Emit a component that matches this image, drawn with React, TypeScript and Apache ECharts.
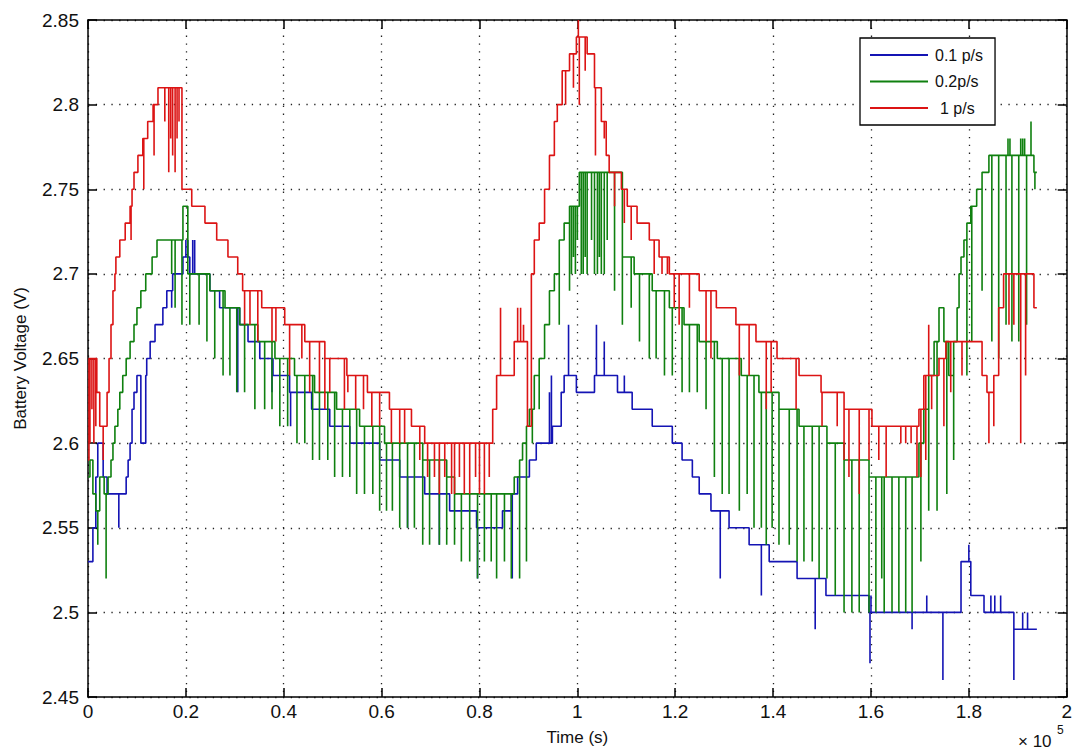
import React, { useEffect, useRef } from "react";
import * as echarts from "echarts";

// Time is in units of 1e5 s; voltage in V.
// Each "steps" entry: [time, level held from that time on]; each "spikes" entry: [time, brief excursion value].
const seriesNames = ["0.1 p/s", "0.2p/s", "1 p/s"];
const seriesColors = ["#1414b4", "#0f800f", "#dc1414"];

const blueSteps: [number, number][] = [
  [0, 2.53], [0.01, 2.55], [0.016, 2.58], [0.02, 2.6], [0.031, 2.58], [0.039, 2.57], [0.078, 2.58], [0.082, 2.59],
  [0.086, 2.6], [0.09, 2.62], [0.094, 2.63], [0.1, 2.64], [0.108, 2.6], [0.118, 2.64], [0.12, 2.65], [0.127, 2.66],
  [0.137, 2.67], [0.153, 2.68], [0.161, 2.69], [0.173, 2.7], [0.194, 2.71], [0.208, 2.7], [0.249, 2.69], [0.269, 2.68],
  [0.31, 2.67], [0.327, 2.66], [0.351, 2.65], [0.378, 2.64], [0.412, 2.63], [0.457, 2.62], [0.494, 2.61], [0.535, 2.6],
  [0.596, 2.59], [0.637, 2.58], [0.688, 2.57], [0.739, 2.56], [0.794, 2.55], [0.847, 2.56], [0.865, 2.57], [0.878, 2.58],
  [0.902, 2.59], [0.916, 2.6], [0.949, 2.61], [0.967, 2.63], [0.973, 2.64], [0.998, 2.63], [1.035, 2.64], [1.082, 2.63],
  [1.112, 2.62], [1.153, 2.61], [1.194, 2.6], [1.214, 2.59], [1.235, 2.58], [1.249, 2.57], [1.273, 2.56], [1.31, 2.55],
  [1.351, 2.54], [1.392, 2.53], [1.449, 2.52], [1.508, 2.51], [1.596, 2.5], [1.784, 2.53], [1.804, 2.51], [1.831, 2.5],
  [1.892, 2.49], [1.939, 2.49],
];
const blueSpikes: [number, number][] = [
  [0.063, 2.55], [0.171, 2.68], [0.2, 2.72], [0.204, 2.72], [0.214, 2.72], [0.218, 2.72], [0.306, 2.63], [0.376, 2.63],
  [0.414, 2.61], [0.653, 2.55], [0.718, 2.54], [0.796, 2.52], [0.867, 2.52], [0.943, 2.63], [0.947, 2.64], [0.982, 2.67],
  [1.039, 2.67], [1.055, 2.66], [1.096, 2.64], [1.292, 2.52], [1.376, 2.51], [1.486, 2.49], [1.598, 2.47], [1.6, 2.51],
  [1.684, 2.49], [1.714, 2.51], [1.747, 2.46], [1.8, 2.54], [1.845, 2.51], [1.853, 2.51], [1.865, 2.51], [1.892, 2.46],
  [1.91, 2.5], [1.92, 2.5],
];

const greenSteps: [number, number][] = [
  [0, 2.58], [0.004, 2.59], [0.01, 2.57], [0.016, 2.56], [0.024, 2.58], [0.033, 2.57], [0.041, 2.58], [0.047, 2.59],
  [0.051, 2.6], [0.055, 2.61], [0.061, 2.62], [0.065, 2.63], [0.071, 2.64], [0.078, 2.65], [0.086, 2.66], [0.094, 2.67],
  [0.1, 2.68], [0.108, 2.69], [0.118, 2.7], [0.131, 2.71], [0.141, 2.72], [0.194, 2.74], [0.204, 2.7], [0.249, 2.69],
  [0.28, 2.68], [0.31, 2.67], [0.347, 2.66], [0.382, 2.65], [0.422, 2.64], [0.463, 2.63], [0.508, 2.62], [0.555, 2.61],
  [0.606, 2.6], [0.684, 2.59], [0.733, 2.58], [0.749, 2.57], [0.871, 2.58], [0.882, 2.59], [0.888, 2.6], [0.896, 2.61],
  [0.902, 2.62], [0.912, 2.64], [0.922, 2.65], [0.933, 2.67], [0.943, 2.69], [0.953, 2.7], [0.963, 2.72], [0.973, 2.73],
  [0.984, 2.74], [1.004, 2.76], [1.092, 2.71], [1.116, 2.7], [1.153, 2.69], [1.188, 2.68], [1.218, 2.67], [1.249, 2.66],
  [1.286, 2.65], [1.335, 2.64], [1.371, 2.63], [1.412, 2.62], [1.453, 2.61], [1.51, 2.6], [1.545, 2.59], [1.596, 2.58],
  [1.698, 2.6], [1.708, 2.62], [1.718, 2.64], [1.729, 2.66], [1.739, 2.68], [1.749, 2.66], [1.759, 2.64], [1.769, 2.66],
  [1.776, 2.68], [1.78, 2.7], [1.784, 2.71], [1.79, 2.72], [1.796, 2.73], [1.804, 2.74], [1.816, 2.75], [1.827, 2.76],
  [1.841, 2.77], [1.933, 2.76], [1.939, 2.76],
];
const greenSpikes: [number, number][] = [
  [0.02, 2.54], [0.037, 2.52], [0.171, 2.7], [0.178, 2.68], [0.192, 2.67], [0.208, 2.67], [0.227, 2.67], [0.243, 2.66],
  [0.259, 2.65], [0.276, 2.64], [0.29, 2.64], [0.304, 2.63], [0.32, 2.63], [0.341, 2.62], [0.361, 2.62], [0.376, 2.62],
  [0.392, 2.61], [0.408, 2.61], [0.427, 2.6], [0.443, 2.6], [0.459, 2.59], [0.473, 2.59], [0.49, 2.59], [0.504, 2.58],
  [0.52, 2.58], [0.535, 2.58], [0.549, 2.57], [0.565, 2.57], [0.582, 2.57], [0.596, 2.56], [0.61, 2.56], [0.622, 2.56],
  [0.637, 2.55], [0.653, 2.55], [0.667, 2.55], [0.684, 2.54], [0.698, 2.54], [0.718, 2.54], [0.733, 2.54], [0.749, 2.54],
  [0.763, 2.53], [0.78, 2.53], [0.796, 2.52], [0.81, 2.53], [0.824, 2.53], [0.835, 2.52], [0.851, 2.53], [0.865, 2.52],
  [0.882, 2.52], [0.896, 2.53], [0.908, 2.6], [0.922, 2.62], [0.963, 2.67], [0.984, 2.69], [0.988, 2.7], [0.992, 2.71],
  [0.996, 2.7], [1.0, 2.72], [1.008, 2.7], [1.012, 2.7], [1.016, 2.71], [1.02, 2.7], [1.029, 2.72], [1.035, 2.7],
  [1.041, 2.7], [1.045, 2.71], [1.049, 2.7], [1.055, 2.7], [1.061, 2.72], [1.076, 2.69], [1.092, 2.67], [1.11, 2.68],
  [1.127, 2.66], [1.147, 2.65], [1.161, 2.65], [1.178, 2.64], [1.194, 2.64], [1.214, 2.63], [1.229, 2.63], [1.245, 2.63],
  [1.263, 2.62], [1.28, 2.58], [1.296, 2.57], [1.31, 2.57], [1.331, 2.56], [1.347, 2.57], [1.361, 2.55], [1.376, 2.55],
  [1.386, 2.54], [1.398, 2.55], [1.412, 2.54], [1.433, 2.54], [1.449, 2.53], [1.463, 2.53], [1.48, 2.53], [1.494, 2.52],
  [1.51, 2.52], [1.527, 2.51], [1.545, 2.5], [1.561, 2.5], [1.576, 2.5], [1.596, 2.5], [1.61, 2.5], [1.622, 2.52],
  [1.627, 2.5], [1.643, 2.5], [1.657, 2.5], [1.671, 2.5], [1.684, 2.5], [1.702, 2.53], [1.718, 2.56], [1.735, 2.56],
  [1.755, 2.57], [1.769, 2.59], [1.796, 2.64], [1.806, 2.66], [1.827, 2.69], [1.847, 2.66], [1.861, 2.65], [1.876, 2.67],
  [1.88, 2.78], [1.884, 2.78], [1.888, 2.66], [1.902, 2.66], [1.906, 2.78], [1.91, 2.78], [1.914, 2.78], [1.918, 2.67],
  [1.927, 2.79], [1.935, 2.75],
];

const redSteps: [number, number][] = [
  [0, 2.59], [0.002, 2.65], [0.018, 2.63], [0.024, 2.61], [0.039, 2.63], [0.043, 2.65], [0.047, 2.67], [0.051, 2.69],
  [0.055, 2.7], [0.057, 2.71], [0.065, 2.72], [0.076, 2.73], [0.086, 2.74], [0.09, 2.75], [0.094, 2.76], [0.102, 2.77],
  [0.112, 2.78], [0.122, 2.79], [0.133, 2.8], [0.143, 2.81], [0.192, 2.75], [0.212, 2.74], [0.239, 2.73], [0.263, 2.72],
  [0.286, 2.71], [0.306, 2.7], [0.316, 2.69], [0.355, 2.68], [0.402, 2.67], [0.443, 2.66], [0.484, 2.65], [0.529, 2.64],
  [0.571, 2.63], [0.616, 2.62], [0.661, 2.61], [0.688, 2.6], [0.827, 2.62], [0.835, 2.64], [0.871, 2.66], [0.898, 2.61],
  [0.906, 2.7], [0.912, 2.72], [0.922, 2.73], [0.933, 2.75], [0.943, 2.77], [0.953, 2.79], [0.959, 2.8], [0.969, 2.82],
  [0.984, 2.83], [0.998, 2.84], [1.02, 2.83], [1.035, 2.81], [1.049, 2.79], [1.059, 2.77], [1.065, 2.76], [1.09, 2.75],
  [1.102, 2.74], [1.122, 2.73], [1.147, 2.72], [1.167, 2.71], [1.188, 2.7], [1.249, 2.69], [1.284, 2.68], [1.324, 2.67],
  [1.365, 2.66], [1.408, 2.65], [1.453, 2.64], [1.498, 2.63], [1.545, 2.62], [1.602, 2.61], [1.698, 2.62], [1.708, 2.64],
  [1.739, 2.65], [1.753, 2.66], [1.827, 2.64], [1.837, 2.63], [1.851, 2.64], [1.861, 2.68], [1.871, 2.7], [1.933, 2.68],
  [1.939, 2.68],
];
const redSpikes: [number, number][] = [
  [0.004, 2.6], [0.008, 2.62], [0.012, 2.6], [0.016, 2.61], [0.031, 2.59], [0.088, 2.72], [0.114, 2.75], [0.135, 2.77],
  [0.157, 2.79], [0.165, 2.76], [0.169, 2.78], [0.173, 2.77], [0.178, 2.76], [0.182, 2.78], [0.186, 2.79], [0.32, 2.67],
  [0.331, 2.67], [0.347, 2.66], [0.376, 2.66], [0.384, 2.66], [0.412, 2.64], [0.437, 2.65], [0.453, 2.63], [0.473, 2.63],
  [0.484, 2.62], [0.494, 2.63], [0.524, 2.62], [0.531, 2.63], [0.547, 2.62], [0.563, 2.62], [0.58, 2.61], [0.596, 2.61],
  [0.62, 2.6], [0.637, 2.6], [0.647, 2.6], [0.678, 2.59], [0.694, 2.58], [0.708, 2.58], [0.718, 2.57], [0.729, 2.58],
  [0.743, 2.57], [0.749, 2.57], [0.759, 2.58], [0.769, 2.57], [0.78, 2.57], [0.792, 2.58], [0.8, 2.57], [0.81, 2.57],
  [0.82, 2.58], [0.843, 2.68], [0.878, 2.68], [0.884, 2.68], [0.89, 2.67], [0.976, 2.8], [0.992, 2.81], [1.002, 2.85],
  [1.004, 2.8], [1.016, 2.82], [1.037, 2.77], [1.055, 2.78], [1.076, 2.74], [1.096, 2.73], [1.11, 2.72], [1.157, 2.7],
  [1.173, 2.7], [1.184, 2.7], [1.198, 2.68], [1.208, 2.67], [1.229, 2.68], [1.263, 2.66], [1.273, 2.65], [1.331, 2.64],
  [1.351, 2.64], [1.386, 2.62], [1.396, 2.63], [1.447, 2.62], [1.5, 2.61], [1.531, 2.61], [1.545, 2.59], [1.555, 2.58],
  [1.576, 2.57], [1.596, 2.59], [1.616, 2.59], [1.631, 2.58], [1.661, 2.6], [1.671, 2.6], [1.682, 2.6], [1.694, 2.58],
  [1.702, 2.58], [1.712, 2.59], [1.718, 2.67], [1.724, 2.62], [1.749, 2.61], [1.763, 2.63], [1.786, 2.64], [1.841, 2.6],
  [1.851, 2.61], [1.882, 2.67], [1.892, 2.67], [1.906, 2.6], [1.916, 2.64],
];

const FONT = '"Liberation Sans", Arial, Helvetica, sans-serif';

function buildTrace(steps: [number, number][], spikes: [number, number][]) {
  type Ev = { t: number; v: number; k: number };
  const evs: Ev[] = [
    ...steps.slice(1).map(([t, v]) => ({ t, v, k: 0 })),
    ...spikes.map(([t, v]) => ({ t, v, k: 1 })),
  ].sort((a, b) => a.t - b.t || a.k - b.k);
  let cur = steps[0][1];
  const out: [number, number][] = [[steps[0][0], cur]];
  for (const e of evs) {
    if (e.k === 0) {
      out.push([e.t, cur]);
      cur = e.v;
      out.push([e.t, cur]);
    } else {
      out.push([e.t, cur], [e.t, e.v], [e.t, cur]);
    }
  }
  return out;
}

export default function App() {
  const ref = useRef<HTMLDivElement>(null);
  useEffect(() => {
    const chart = echarts.init(ref.current!, null, { renderer: "svg" });
    const traces = [
      buildTrace(blueSteps, blueSpikes),
      buildTrace(greenSteps, greenSpikes),
      buildTrace(redSteps, redSpikes),
    ];
    const gridLine = { show: true, lineStyle: { color: "#222", width: 1.3, type: [1.3, 6.5] as number[] } };
    const axisLine = { show: true, onZero: false, lineStyle: { color: "#000", width: 1.5 } };
    const tick = { show: true, inside: true, length: 9, lineStyle: { color: "#000", width: 1.5 } };
    chart.setOption({
      animation: false,
      backgroundColor: "#fff",
      grid: { left: 88, right: 7, top: 20, bottom: 56, containLabel: false },
      legend: {
        orient: "vertical",
        left: 860,
        top: 38,
        padding: [7, 12, 7, 10],
        icon: "rect",
        itemWidth: 58,
        itemHeight: 2,
        itemGap: 6.5,
        backgroundColor: "#fff",
        borderColor: "#000",
        borderWidth: 1.3,
        data: seriesNames,
        formatter: (name: string) => (name === "1 p/s" ? `{o|${name}}` : `{n|${name}}`),
        textStyle: {
          fontFamily: FONT,
          fontSize: 16,
          lineHeight: 20,
          color: "#111",
          rich: {
            n: { fontFamily: FONT, fontSize: 16, lineHeight: 20, color: "#111", padding: [0, 0, 0, 2] },
            o: { fontFamily: FONT, fontSize: 16, lineHeight: 20, color: "#111", padding: [0, 0, 0, 7] },
          },
        },
      },
      xAxis: [
        {
          type: "value",
          min: 0,
          max: 2,
          interval: 0.2,
          name: "Time (s)",
          nameLocation: "middle",
          nameGap: 32,
          nameTextStyle: { fontFamily: FONT, fontSize: 17, color: "#111" },
          axisLine,
          axisTick: tick,
          axisLabel: {
            margin: 5,
            fontFamily: FONT,
            fontSize: 19,
            color: "#111",
            formatter: (v: number) => String(Number(v.toFixed(1))),
          },
          splitLine: gridLine,
        },
        {
          type: "value",
          position: "top",
          min: 0,
          max: 2,
          interval: 0.2,
          axisLine,
          axisTick: tick,
          axisLabel: { show: false },
          splitLine: { show: false },
        },
      ],
      yAxis: [
        {
          type: "value",
          min: 2.45,
          max: 2.85,
          interval: 0.05,
          name: "Battery Voltage (V)",
          nameLocation: "middle",
          nameGap: 59,
          nameTextStyle: { fontFamily: FONT, fontSize: 17, color: "#111" },
          axisLine,
          axisTick: tick,
          axisLabel: {
            margin: 9,
            fontFamily: FONT,
            fontSize: 19,
            color: "#111",
            formatter: (v: number) => String(Number(v.toFixed(2))),
          },
          splitLine: gridLine,
        },
        {
          type: "value",
          position: "right",
          min: 2.45,
          max: 2.85,
          interval: 0.05,
          axisLine,
          axisTick: tick,
          axisLabel: { show: false },
          splitLine: { show: false },
        },
      ],
      series: traces.map((data, i) => ({
        name: seriesNames[i],
        type: "line",
        data,
        symbol: "none",
        showSymbol: false,
        xAxisIndex: 0,
        yAxisIndex: 0,
        color: seriesColors[i],
        lineStyle: { color: seriesColors[i], width: 1.6 },
        silent: true,
      })),
      graphic: [
        { type: "text", left: 1018, top: 733, style: { text: "× 10", fontFamily: FONT, fontSize: 17, fill: "#111" } },
        { type: "text", left: 1057, top: 724, style: { text: "5", fontFamily: FONT, fontSize: 12, fill: "#111" } },
      ],
    });
    return () => chart.dispose();
  }, []);
  return (
    <div
      ref={ref}
      style={{ position: "fixed", left: 0, top: 0, width: 1075, height: 753, background: "#fff" }}
    />
  );
}
